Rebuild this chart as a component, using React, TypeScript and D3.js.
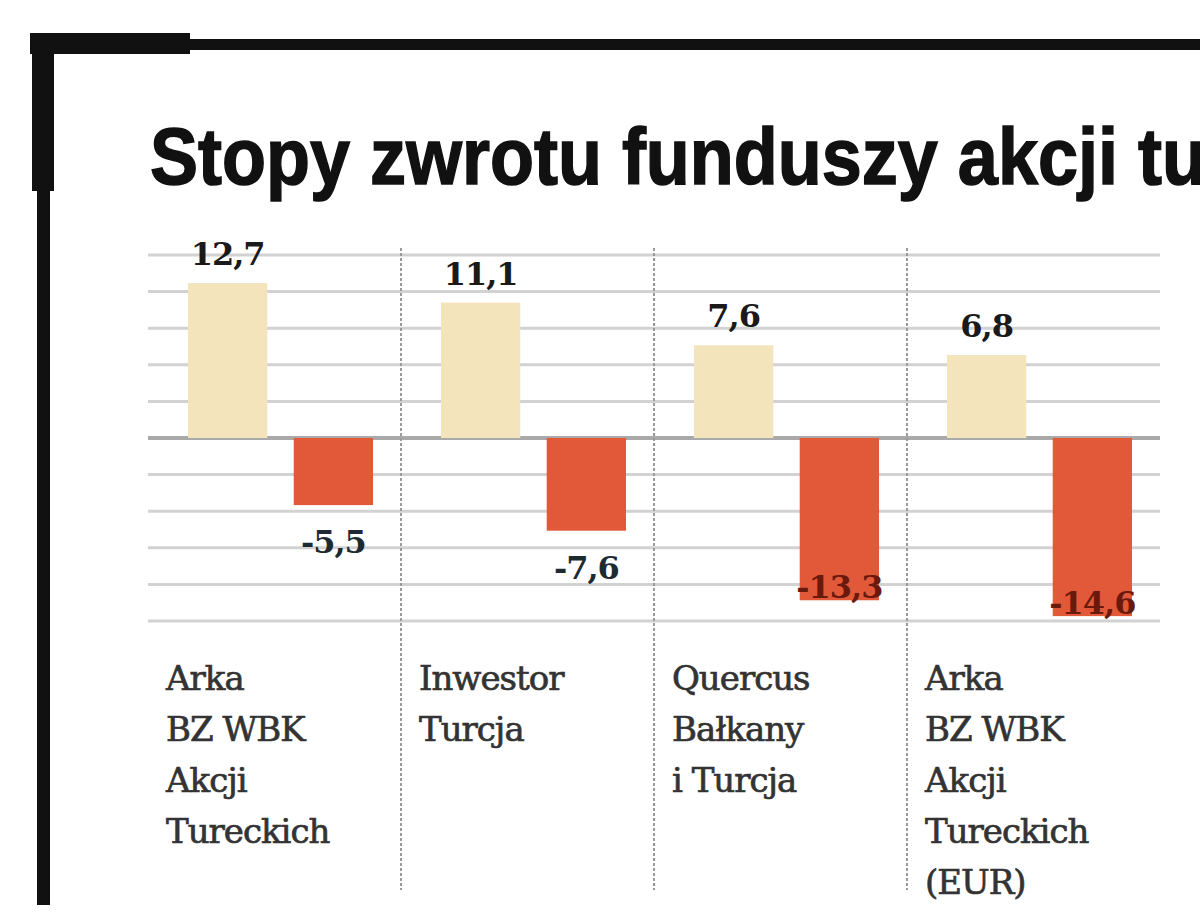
import React, { useEffect, useRef } from 'react';
import * as d3 from 'd3';

// fund names, split into the lines they are printed on
const funds = [
    ['Arka', 'BZ WBK', 'Akcji', 'Tureckich'],
    ['Inwestor', 'Turcja'],
    ['Quercus', 'Bałkany', 'i Turcja'],
    ['Arka', 'BZ WBK', 'Akcji', 'Tureckich', '(EUR)'],
];
const seriesKeys = ['first', 'second'];
const firstValues = [12.7, 11.1, 7.6, 6.8];
const secondValues = [-5.5, -7.6, -13.3, -14.6];
const gridTicks = [15, 12, 9, 6, 3, 0, -3, -6, -9, -12, -15];
const title = 'Stopy zwrotu funduszy akcji tureckich';

const width = 1200;
const height = 923;
const beige = '#f3e4bc';
const red = '#e2593a';

const App: React.FC = () => {
    const ref = useRef<SVGSVGElement>(null);

    useEffect(() => {
        d3.select(ref.current).selectAll('*').remove();

        const svg = d3.select(ref.current).attr('width', width).attr('height', height);

        svg.append('rect').attr('width', width).attr('height', height).attr('fill', '#ffffff');

        // frame: thick corner bracket top-left
        svg.append('rect').attr('x', 30).attr('y', 33).attr('width', 160).attr('height', 21).attr('fill', '#111');
        svg.append('rect').attr('x', 185).attr('y', 39).attr('width', 1015).attr('height', 11).attr('fill', '#111');
        svg.append('rect').attr('x', 32).attr('y', 33).attr('width', 22).attr('height', 158).attr('fill', '#111');
        svg.append('rect').attr('x', 37).attr('y', 180).attr('width', 13).attr('height', 725).attr('fill', '#111');

        // title, slightly condensed and heavy; it runs off the right edge as in print
        svg.append('text')
            .attr('transform', 'translate(150,184) scale(0.9,1)')
            .style('font-family', '"Liberation Sans", Arial, sans-serif')
            .style('font-weight', 'bold')
            .style('font-size', '80px')
            .attr('fill', '#111')
            .attr('stroke', '#111')
            .attr('stroke-width', 1.5)
            .text(title);

        const xScale = d3.scaleBand<number>()
            .domain(d3.range(funds.length))
            .range([148, 1160]);

        const innerScale = d3.scaleBand<string>()
            .domain(seriesKeys)
            .range([40, 225])
            .paddingInner(0.25);

        const yScale = d3.scaleLinear().domain([-15, 15]).range([621, 255]);

        // horizontal grid
        svg.append('g')
            .selectAll('line')
            .data(gridTicks)
            .join('line')
            .attr('x1', 148)
            .attr('x2', 1160)
            .attr('y1', (d) => yScale(d))
            .attr('y2', (d) => yScale(d))
            .attr('stroke', (d) => (d === 0 ? '#a9a9a9' : '#d2d2d2'))
            .attr('stroke-width', (d) => (d === 0 ? 4 : 3));

        // column dividers
        svg.append('g')
            .selectAll('line')
            .data(d3.range(1, funds.length))
            .join('line')
            .attr('x1', (d) => xScale(d) ?? 0)
            .attr('x2', (d) => xScale(d) ?? 0)
            .attr('y1', 248)
            .attr('y2', 890)
            .attr('stroke', '#9a9a9a')
            .attr('stroke-width', 2)
            .attr('stroke-dasharray', '3,2');

        const rows = funds.map((_, i) => ({ i, first: firstValues[i], second: secondValues[i] }));

        const groups = svg.append('g')
            .selectAll('g')
            .data(rows)
            .join('g')
            .attr('transform', (d) => `translate(${xScale(d.i)},0)`);

        groups.append('rect')
            .attr('x', innerScale('first') ?? 0)
            .attr('width', innerScale.bandwidth())
            .attr('y', (d) => yScale(d.first))
            .attr('height', (d) => yScale(0) - yScale(d.first))
            .attr('fill', beige);

        groups.append('rect')
            .attr('x', innerScale('second') ?? 0)
            .attr('width', innerScale.bandwidth())
            .attr('y', yScale(0))
            .attr('height', (d) => yScale(d.second) - yScale(0))
            .attr('fill', red);

        const fmt = (v: number) => v.toFixed(1).replace('.', ',');
        const labelFont = '"DejaVu Serif", serif';

        groups.append('text')
            .attr('x', (innerScale('first') ?? 0) + innerScale.bandwidth() / 2)
            .attr('y', (d) => yScale(d.first) - 18)
            .attr('text-anchor', 'middle')
            .style('font-family', labelFont)
            .style('font-weight', 'bold')
            .style('font-size', '32px')
            .style('letter-spacing', '-1px')
            .attr('fill', '#1a1a1a')
            .text((d) => fmt(d.first));

        // negative labels sit under the bar, or on its end when the bar runs too deep
        const lowLimit = yScale(-12);
        groups.append('text')
            .attr('x', (innerScale('second') ?? 0) + innerScale.bandwidth() / 2)
            .attr('y', (d) => {
                const end = yScale(d.second);
                return end + 48 > lowLimit ? end - 2 : end + 48;
            })
            .attr('text-anchor', 'middle')
            .style('font-family', labelFont)
            .style('font-weight', 'bold')
            .style('font-size', '32px')
            .style('letter-spacing', '-1px')
            .attr('fill', (d) => (yScale(d.second) + 48 > lowLimit ? '#6a1a0c' : '#1d2b30'))
            .text((d) => fmt(d.second));

        // fund names
        groups.append('text')
            .attr('x', 18)
            .attr('y', 690)
            .style('font-family', labelFont)
            .style('font-size', '34px')
            .style('letter-spacing', '-1px')
            .attr('fill', '#333')
            .attr('stroke', '#333')
            .attr('stroke-width', 0.7)
            .selectAll('tspan')
            .data((d) => funds[d.i])
            .join('tspan')
            .attr('x', 18)
            .attr('dy', (_, j) => (j === 0 ? 0 : 51))
            .text((d) => d);
    }, []);

    return <svg ref={ref} style={{ position: 'absolute', left: 0, top: 0, display: 'block' }}></svg>;
};

export default App;
